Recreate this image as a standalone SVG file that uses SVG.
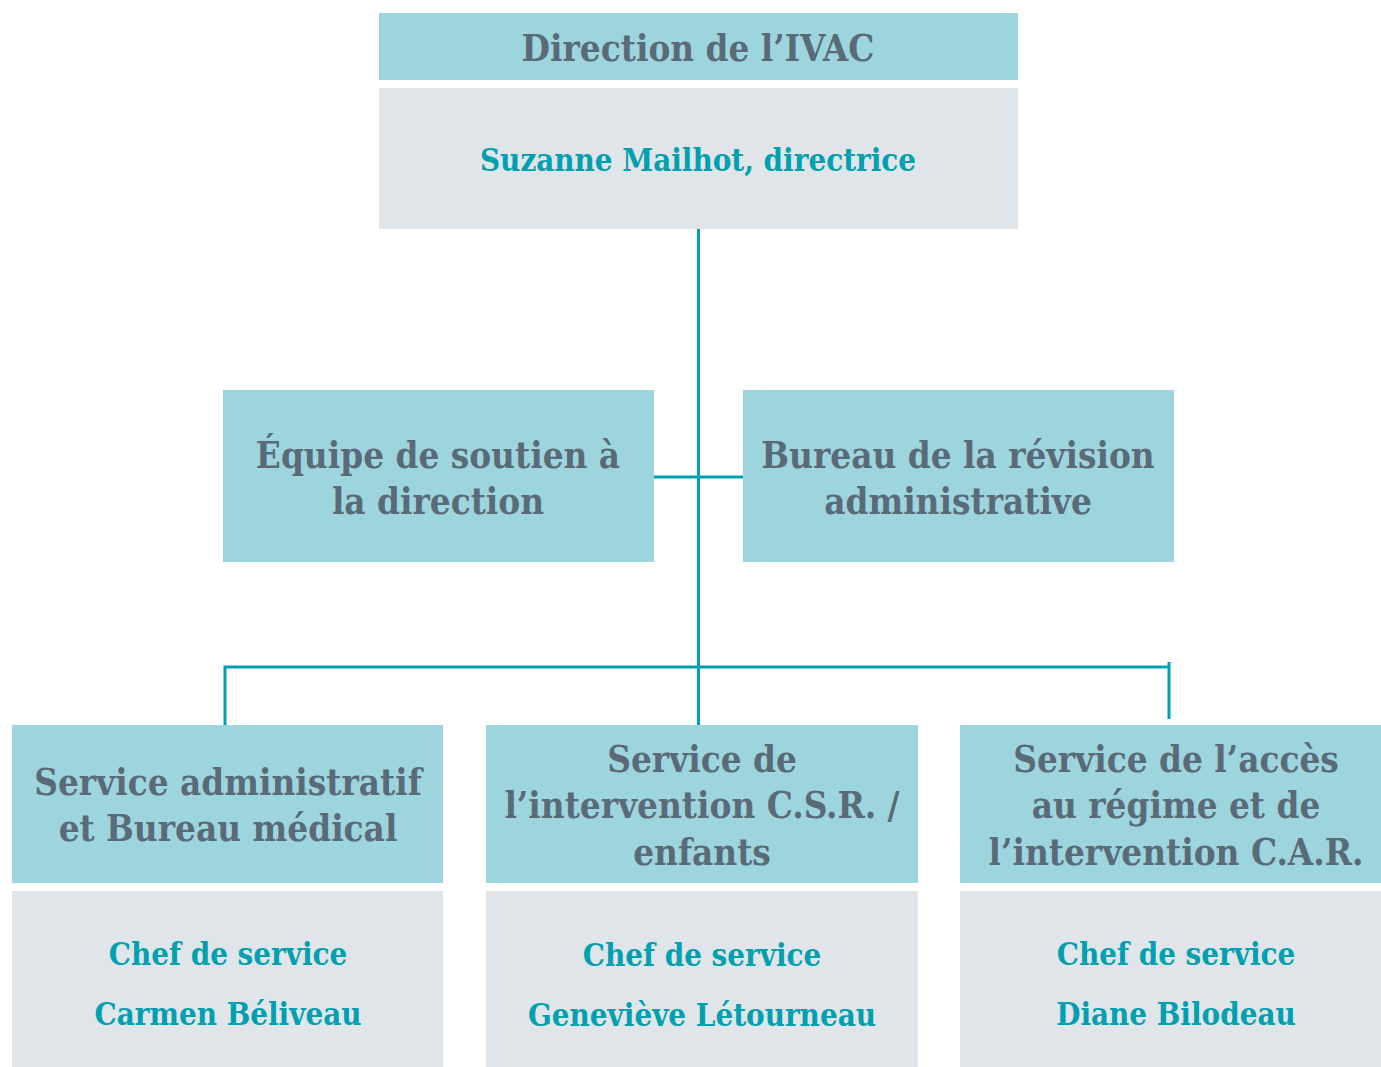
<svg xmlns="http://www.w3.org/2000/svg" width="1381" height="1067" viewBox="0 0 1381 1067">
<style>
.hd{fill:#9dd5df}
.gy{fill:#e0e5e9}
.t1{font-family:"DejaVu Serif Condensed","DejaVu Serif",serif;font-weight:bold;font-size:36.5px;fill:#5a6b77;text-anchor:middle}
.t2{font-family:"DejaVu Serif Condensed","DejaVu Serif",serif;font-weight:bold;font-size:31px;fill:#00a0b0;text-anchor:middle}
.ln{stroke:#00a0b0;stroke-width:3;fill:none}
</style>
<rect width="1381" height="1067" fill="#fff"/>
<g id="connectors">
<line class="ln" x1="698.5" y1="229" x2="698.5" y2="725"/>
<line class="ln" x1="654" y1="477" x2="745" y2="477"/>
<polyline class="ln" points="225,725 225,667 1169,667"/>
<line class="ln" x1="1169" y1="662" x2="1169" y2="719"/>
</g>
<g id="direction">
<rect class="hd" x="379" y="13" width="639" height="67"/>
<text class="t1" x="698" y="61">Direction de l’IVAC</text>
<rect class="gy" x="379" y="88" width="639" height="141"/>
<text class="t2" x="698" y="171">Suzanne Mailhot, directrice</text>
</g>
<g id="soutien">
<rect class="hd" x="223" y="390" width="431" height="172"/>
<text class="t1" x="438" y="468">Équipe de soutien à</text>
<text class="t1" x="438" y="514">la direction</text>
</g>
<g id="revision">
<rect class="hd" x="743" y="390" width="431" height="172"/>
<text class="t1" x="958" y="468">Bureau de la révision</text>
<text class="t1" x="958" y="514">administrative</text>
</g>
<g id="admin">
<rect class="hd" x="12" y="725" width="431" height="158"/>
<text class="t1" x="228" y="795">Service administratif</text>
<text class="t1" x="228" y="841">et Bureau médical</text>
<rect class="gy" x="12" y="891" width="431" height="176"/>
<text class="t2" x="228" y="965">Chef de service</text>
<text class="t2" x="228" y="1025">Carmen Béliveau</text>
</g>
<g id="csr">
<rect class="hd" x="486" y="725" width="432" height="158"/>
<text class="t1" x="702" y="772">Service de</text>
<text class="t1" x="702" y="818">l’intervention C.S.R. /</text>
<text class="t1" x="702" y="865">enfants</text>
<rect class="gy" x="486" y="891" width="432" height="176"/>
<text class="t2" x="702" y="966">Chef de service</text>
<text class="t2" x="702" y="1026">Geneviève Létourneau</text>
</g>
<g id="car">
<rect class="hd" x="960" y="725" width="421" height="158"/>
<text class="t1" x="1176" y="772">Service de l’accès</text>
<text class="t1" x="1176" y="818">au régime et de</text>
<text class="t1" x="1176" y="865">l’intervention C.A.R.</text>
<rect class="gy" x="960" y="891" width="421" height="176"/>
<text class="t2" x="1176" y="965">Chef de service</text>
<text class="t2" x="1176" y="1025">Diane Bilodeau</text>
</g>
</svg>
